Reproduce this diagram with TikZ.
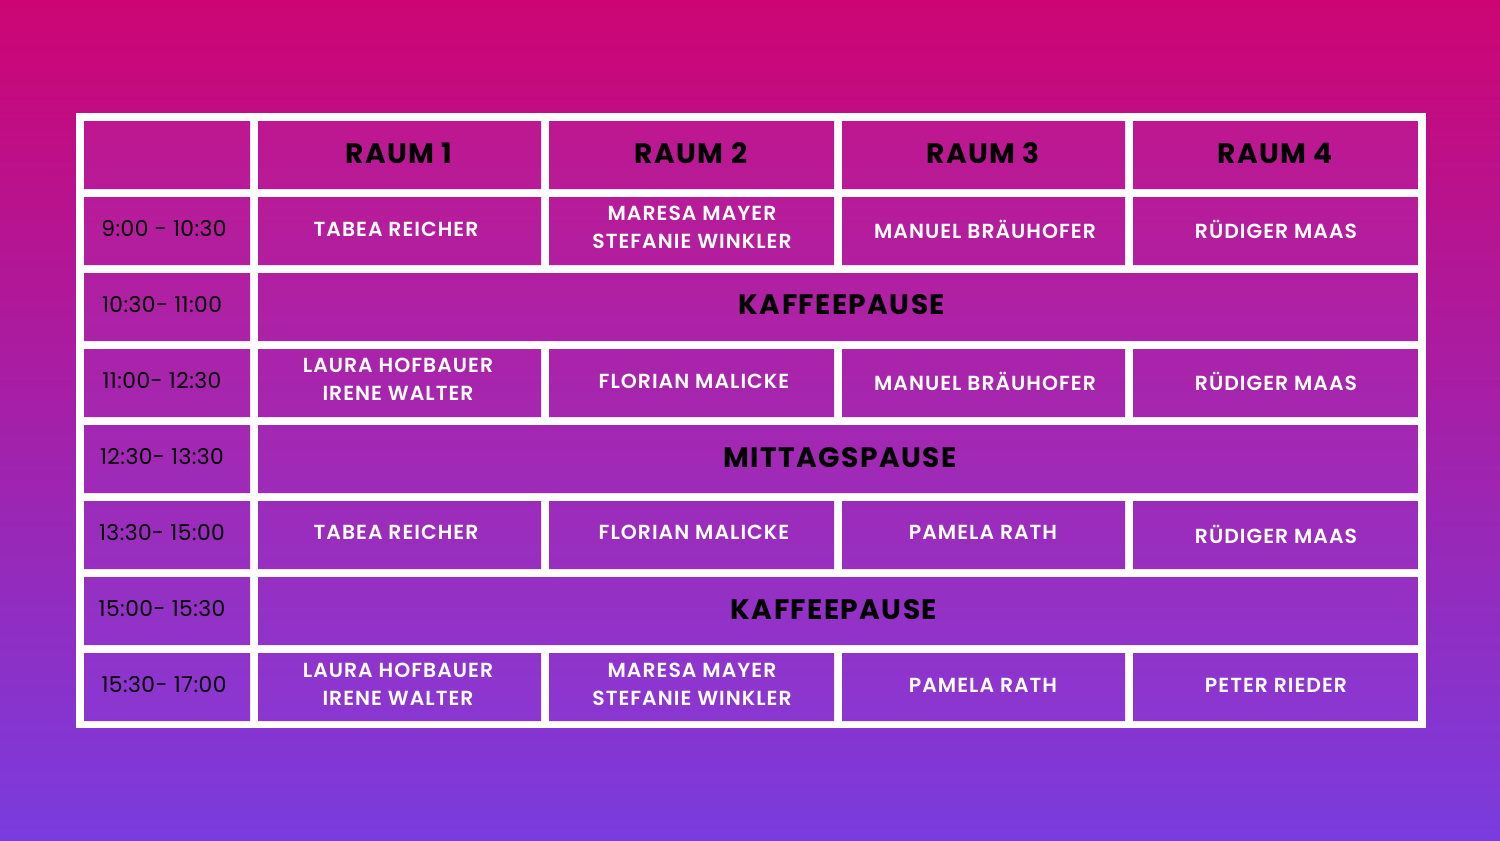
\documentclass[tikz,border=0pt]{standalone}
\usepackage{fontspec}
\setmainfont{Poppins}
\newfontfamily\tmp{Poppins}[LetterSpace=2]
\newfontfamily\bfp{Poppins}[UprightFont=* SemiBold,LetterSpace=5]
\newfontfamily\bbp{Poppins}[UprightFont=* Bold,LetterSpace=5]
\definecolor{bgtop}{HTML}{CD0574}
\definecolor{bgbot}{HTML}{7A3CDE}
\definecolor{ctop}{HTML}{BE1790}
\definecolor{cbot}{HTML}{8A37D2}
\tikzset{x=0.05cm,y=-0.05cm,
 tm/.style={text=black,font=\tmp\fontsize{31}{34}\selectfont},
 nm/.style={text=white,font=\bfp\fontsize{29}{40}\selectfont,align=center},
 hd/.style={text=black,font=\bbp\fontsize{40}{44}\selectfont},
 pz/.style={text=black,font=\bbp\fontsize{40}{44}\selectfont}}
\begin{document}
\begin{tikzpicture}
\useasboundingbox (0,0) rectangle (1500,840);
\shade[top color=bgtop,bottom color=bgbot] (0,0) rectangle (1500,840);
\fill[white] (76,113) rectangle (1426,728);
\begin{scope}
\clip
 \foreach \t in {121,197,349,501,653}{
  (84,\t) rectangle (250,\t+68) (258,\t) rectangle (541,\t+68) (549,\t) rectangle (834,\t+68)
  (842,\t) rectangle (1125,\t+68) (1133,\t) rectangle (1418,\t+68)}
 \foreach \t in {273,425,577}{ (84,\t) rectangle (250,\t+68) (258,\t) rectangle (1418,\t+68)};
\shade[top color=ctop,bottom color=cbot] (84,121) rectangle (1418,721);
\end{scope}
% header
\node[hd] (h1) at (399,153) {RAUM 1};
\node[hd] (h2) at (691,153) {RAUM 2};
\node[hd] (h3) at (983,153) {RAUM 3};
\node[hd] (h4) at (1275,153) {RAUM 4};
% times
\node[tm] (t1) at (164,229) {9:00 - 10:30};
\node[tm] (t2) at (162,305) {10:30- 11:00};
\node[tm] (t3) at (162,381) {11:00- 12:30};
\node[tm] (t4) at (162,457) {12:30- 13:30};
\node[tm] (t5) at (162,533) {13:30- 15:00};
\node[tm] (t6) at (162,609) {15:00- 15:30};
\node[tm] (t7) at (164,685) {15:30- 17:00};
% rows
\node[nm] (a1) at (396,229) {TABEA REICHER};
\node[nm] (a2) at (692,227) {MARESA MAYER\\STEFANIE WINKLER};
\node[nm] (a3) at (985,229) {MANUEL BRÄUHOFER};
\node[nm] (a4) at (1276,229) {RÜDIGER MAAS};
\node[pz] (p1) at (842,305) {KAFFEEPAUSE};
\node[nm] (b1) at (398,379) {LAURA HOFBAUER\\IRENE WALTER};
\node[nm] (b2) at (694,381) {FLORIAN MALICKE};
\node[nm] (b3) at (985,381) {MANUEL BRÄUHOFER};
\node[nm] (b4) at (1276,381) {RÜDIGER MAAS};
\node[pz] (p2) at (840,458) {MITTAGSPAUSE};
\node[nm] (c1) at (396,532) {TABEA REICHER};
\node[nm] (c2) at (694,532) {FLORIAN MALICKE};
\node[nm] (c3) at (983,532) {PAMELA RATH};
\node[nm] (c4) at (1276,534) {RÜDIGER MAAS};
\node[pz] (p3) at (834,610) {KAFFEEPAUSE};
\node[nm] (d1) at (398,684) {LAURA HOFBAUER\\IRENE WALTER};
\node[nm] (d2) at (692,684) {MARESA MAYER\\STEFANIE WINKLER};
\node[nm] (d3) at (983,685) {PAMELA RATH};
\node[nm] (d4) at (1276,685) {PETER RIEDER};
\end{tikzpicture}
\end{document}
